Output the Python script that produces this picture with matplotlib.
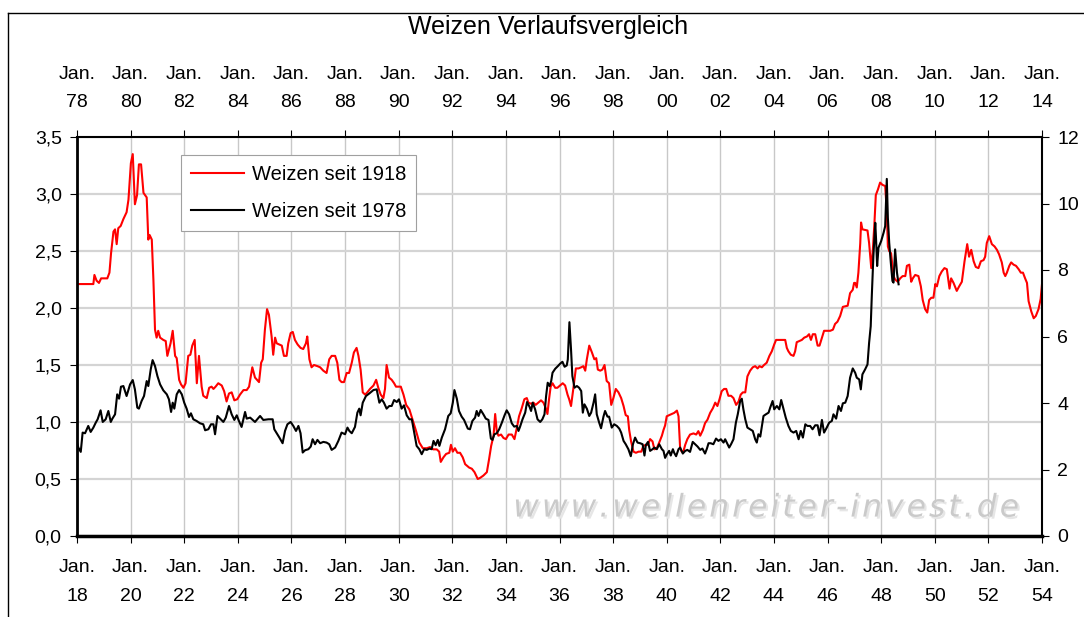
import numpy as np
import matplotlib
matplotlib.use('Agg')
import matplotlib.pyplot as plt
from matplotlib import patheffects
from matplotlib.lines import Line2D

plt.rcParams['font.family'] = ['Liberation Sans', 'DejaVu Sans']

# Weizen seit 1918 (linke Achse, untere Zeitachse)
red_years = [
    1918.00, 1918.61, 1918.65, 1918.73, 1918.82, 1918.90, 1919.13, 1919.21, 1919.27, 1919.36,
    1919.42, 1919.48, 1919.54, 1919.63, 1919.73, 1919.85, 1919.92, 1920.01, 1920.08, 1920.16,
    1920.24, 1920.31, 1920.39, 1920.48, 1920.60, 1920.66, 1920.71, 1920.79, 1920.85, 1920.91,
    1920.97, 1921.03, 1921.10, 1921.22, 1921.31, 1921.37, 1921.49, 1921.57, 1921.66, 1921.72,
    1921.81, 1921.88, 1921.97, 1922.05, 1922.15, 1922.23, 1922.30, 1922.39, 1922.47, 1922.55,
    1922.65, 1922.71, 1922.84, 1922.93, 1923.02, 1923.09, 1923.17, 1923.27, 1923.40, 1923.49,
    1923.58, 1923.67, 1923.77, 1923.87, 1923.98, 1924.08, 1924.21, 1924.33, 1924.42, 1924.54,
    1924.64, 1924.79, 1924.87, 1924.93, 1925.01, 1925.09, 1925.16, 1925.26, 1925.32, 1925.39,
    1925.45, 1925.55, 1925.64, 1925.72, 1925.82, 1925.88, 1925.97, 1926.05, 1926.13, 1926.23,
    1926.34, 1926.44, 1926.54, 1926.59, 1926.67, 1926.75, 1926.84, 1926.97, 1927.07, 1927.19,
    1927.31, 1927.41, 1927.50, 1927.63, 1927.71, 1927.79, 1927.87, 1927.96, 1928.06, 1928.15,
    1928.25, 1928.33, 1928.43, 1928.50, 1928.58, 1928.66, 1928.75, 1928.83, 1928.93, 1929.06,
    1929.16, 1929.24, 1929.33, 1929.43, 1929.49, 1929.55, 1929.64, 1929.74, 1929.83, 1929.90,
    1929.99, 1930.08, 1930.18, 1930.28, 1930.40, 1930.52, 1930.65, 1930.77, 1930.90, 1931.05,
    1931.17, 1931.29, 1931.42, 1931.51, 1931.57, 1931.67, 1931.77, 1931.89, 1931.95, 1932.02,
    1932.10, 1932.19, 1932.29, 1932.39, 1932.48, 1932.63, 1932.73, 1932.83, 1932.95, 1933.04,
    1933.16, 1933.29, 1933.37, 1933.45, 1933.54, 1933.60, 1933.66, 1933.72, 1933.82, 1933.91,
    1934.00, 1934.10, 1934.22, 1934.32, 1934.41, 1934.49, 1934.59, 1934.69, 1934.78, 1934.84,
    1934.94, 1935.03, 1935.11, 1935.21, 1935.31, 1935.40, 1935.49, 1935.55, 1935.61, 1935.67,
    1935.74, 1935.84, 1935.92, 1936.02, 1936.12, 1936.21, 1936.30, 1936.36, 1936.43, 1936.52,
    1936.61, 1936.71, 1936.81, 1936.89, 1936.96, 1937.02, 1937.11, 1937.21, 1937.30, 1937.37,
    1937.43, 1937.52, 1937.60, 1937.68, 1937.76, 1937.85, 1937.93, 1938.01, 1938.10, 1938.20,
    1938.30, 1938.39, 1938.47, 1938.55, 1938.60, 1938.67, 1938.76, 1938.85, 1938.95, 1939.05,
    1939.13, 1939.22, 1939.30, 1939.38, 1939.47, 1939.54, 1939.63, 1939.72, 1939.82, 1939.88,
    1939.94, 1940.00, 1940.09, 1940.19, 1940.28, 1940.38, 1940.44, 1940.50, 1940.56, 1940.62,
    1940.69, 1940.77, 1940.87, 1941.00, 1941.10, 1941.18, 1941.25, 1941.35, 1941.43, 1941.52,
    1941.62, 1941.72, 1941.81, 1941.89, 1941.97, 1942.05, 1942.14, 1942.22, 1942.30, 1942.40,
    1942.49, 1942.59, 1942.68, 1942.76, 1942.84, 1942.93, 1943.01, 1943.11, 1943.21, 1943.30,
    1943.39, 1943.46, 1943.55, 1943.63, 1943.73, 1943.83, 1943.92, 1944.01, 1944.08, 1944.42,
    1944.48, 1944.54, 1944.63, 1944.73, 1944.79, 1944.85, 1944.95, 1945.04, 1945.13, 1945.23,
    1945.31, 1945.38, 1945.45, 1945.54, 1945.63, 1945.70, 1945.79, 1945.87, 1946.10, 1946.20,
    1946.28, 1946.37, 1946.47, 1946.57, 1946.75, 1946.84, 1946.94, 1946.99, 1947.03, 1947.09,
    1947.15, 1947.22, 1947.25, 1947.30, 1947.49, 1947.55, 1947.63, 1947.69, 1947.75, 1947.80,
    1947.88, 1947.96, 1948.05, 1948.15, 1948.21, 1948.25, 1948.30, 1948.37, 1948.46, 1948.52,
    1948.62, 1948.71, 1948.80, 1948.90, 1948.96, 1949.05, 1949.12, 1949.18, 1949.27, 1949.39,
    1949.48, 1949.55, 1949.64, 1949.72, 1949.79, 1949.87, 1949.95, 1950.02, 1950.08, 1950.17,
    1950.26, 1950.36, 1950.45, 1950.55, 1950.61, 1950.70, 1950.82, 1950.91, 1951.01, 1951.11,
    1951.21, 1951.28, 1951.36, 1951.45, 1951.53, 1951.63, 1951.72, 1951.82, 1951.88, 1951.94,
    1952.03, 1952.13, 1952.23, 1952.32, 1952.40, 1952.50, 1952.57, 1952.63, 1952.69, 1952.78,
    1952.85, 1952.94, 1953.03, 1953.13, 1953.21, 1953.29, 1953.37, 1953.44, 1953.50, 1953.60,
    1953.69, 1953.77, 1953.87, 1953.95, 1954.00,
]
red_vals = [
    2.21, 2.21, 2.29, 2.24, 2.22, 2.26, 2.26, 2.31, 2.48, 2.67,
    2.69, 2.56, 2.70, 2.72, 2.78, 2.84, 2.95, 3.27, 3.35, 2.91,
    2.99, 3.26, 3.26, 3.01, 2.97, 2.60, 2.64, 2.60, 2.25, 1.81,
    1.74, 1.80, 1.74, 1.72, 1.71, 1.58, 1.69, 1.80, 1.58, 1.56,
    1.37, 1.33, 1.30, 1.34, 1.58, 1.59, 1.67, 1.72, 1.34, 1.58,
    1.31, 1.23, 1.21, 1.30, 1.31, 1.29, 1.31, 1.34, 1.32, 1.27,
    1.18, 1.25, 1.26, 1.19, 1.20, 1.24, 1.28, 1.28, 1.31, 1.48,
    1.39, 1.35, 1.52, 1.55, 1.81, 1.99, 1.94, 1.75, 1.59, 1.74,
    1.69, 1.68, 1.67, 1.58, 1.58, 1.69, 1.78, 1.79, 1.72, 1.68,
    1.65, 1.64, 1.69, 1.75, 1.55, 1.48, 1.50, 1.49, 1.48, 1.45,
    1.43, 1.55, 1.58, 1.58, 1.52, 1.37, 1.35, 1.35, 1.43, 1.43,
    1.52, 1.61, 1.65, 1.58, 1.46, 1.26, 1.24, 1.26, 1.29, 1.32,
    1.37, 1.30, 1.24, 1.21, 1.29, 1.50, 1.39, 1.37, 1.34, 1.31,
    1.31, 1.31, 1.24, 1.15, 1.11, 1.02, 0.92, 0.82, 0.77, 0.77,
    0.78, 0.76, 0.76, 0.74, 0.65, 0.69, 0.72, 0.73, 0.80, 0.74,
    0.77, 0.73, 0.73, 0.69, 0.63, 0.60, 0.59, 0.56, 0.50, 0.51,
    0.53, 0.56, 0.67, 0.79, 0.88, 1.07, 0.92, 0.88, 0.89, 0.86,
    0.85, 0.89, 0.89, 0.85, 0.95, 1.05, 1.12, 1.20, 1.21, 1.17,
    1.16, 1.17, 1.15, 1.17, 1.19, 1.17, 1.12, 1.07, 1.20, 1.31,
    1.34, 1.30, 1.30, 1.32, 1.34, 1.32, 1.24, 1.20, 1.14, 1.30,
    1.47, 1.47, 1.48, 1.49, 1.45, 1.55, 1.67, 1.61, 1.55, 1.56,
    1.46, 1.45, 1.46, 1.50, 1.36, 1.34, 1.15, 1.21, 1.29, 1.26,
    1.21, 1.14, 1.06, 1.05, 0.93, 0.83, 0.74, 0.73, 0.74, 0.74,
    0.79, 0.80, 0.80, 0.85, 0.83, 0.76, 0.77, 0.82, 0.88, 0.93,
    0.97, 1.05, 1.06, 1.07, 1.08, 1.10, 1.05, 0.77, 0.74, 0.74,
    0.80, 0.85, 0.89, 0.90, 0.89, 0.92, 0.88, 0.93, 0.99, 1.02,
    1.08, 1.12, 1.17, 1.14, 1.20, 1.27, 1.29, 1.29, 1.23, 1.23,
    1.21, 1.15, 1.18, 1.24, 1.26, 1.26, 1.40, 1.45, 1.48, 1.49,
    1.47, 1.49, 1.48, 1.50, 1.52, 1.58, 1.62, 1.68, 1.72, 1.72,
    1.65, 1.62, 1.59, 1.58, 1.62, 1.70, 1.71, 1.72, 1.74, 1.75,
    1.77, 1.72, 1.77, 1.77, 1.67, 1.67, 1.74, 1.80, 1.80, 1.81,
    1.86, 1.88, 1.93, 2.01, 2.02, 2.13, 2.16, 2.22, 2.22, 2.18,
    2.31, 2.57, 2.75, 2.69, 2.68, 2.57, 2.35, 2.51, 2.75, 2.99,
    3.04, 3.10, 3.08, 3.07, 2.85, 2.54, 2.50, 2.48, 2.28, 2.25,
    2.23, 2.26, 2.28, 2.28, 2.37, 2.38, 2.23, 2.26, 2.29, 2.28,
    2.19, 2.07, 1.99, 1.96, 2.07, 2.09, 2.09, 2.21, 2.19, 2.28,
    2.32, 2.35, 2.34, 2.17, 2.26, 2.22, 2.15, 2.19, 2.23, 2.41,
    2.56, 2.45, 2.51, 2.41, 2.36, 2.35, 2.41, 2.42, 2.45, 2.57,
    2.63, 2.56, 2.54, 2.51, 2.47, 2.40, 2.31, 2.28, 2.31, 2.37,
    2.40, 2.38, 2.37, 2.34, 2.31, 2.31, 2.26, 2.22, 2.06, 1.97,
    1.91, 1.93, 1.99, 2.08, 2.21,
]

# Weizen seit 1978 (rechte Achse, obere Zeitachse)
black_years = [
    1978.00, 1978.05, 1978.14, 1978.21, 1978.30, 1978.42, 1978.51, 1978.61, 1978.70, 1978.77,
    1978.88, 1978.96, 1979.07, 1979.17, 1979.26, 1979.32, 1979.42, 1979.50, 1979.57, 1979.64,
    1979.73, 1979.85, 1979.98, 1980.08, 1980.16, 1980.25, 1980.31, 1980.41, 1980.50, 1980.60,
    1980.66, 1980.75, 1980.82, 1980.91, 1981.00, 1981.10, 1981.22, 1981.35, 1981.43, 1981.51,
    1981.57, 1981.63, 1981.72, 1981.81, 1981.91, 1982.00, 1982.09, 1982.18, 1982.25, 1982.34,
    1982.46, 1982.59, 1982.71, 1982.78, 1982.90, 1983.00, 1983.09, 1983.15, 1983.24, 1983.34,
    1983.46, 1983.55, 1983.67, 1983.77, 1983.87, 1983.96, 1984.04, 1984.14, 1984.27, 1984.33,
    1984.46, 1984.64, 1984.83, 1984.95, 1985.14, 1985.30, 1985.36, 1985.45, 1985.55, 1985.67,
    1985.76, 1985.85, 1985.97, 1986.07, 1986.17, 1986.26, 1986.34, 1986.42, 1986.51, 1986.63,
    1986.72, 1986.79, 1986.88, 1986.97, 1987.07, 1987.19, 1987.31, 1987.41, 1987.50, 1987.63,
    1987.75, 1987.87, 1988.00, 1988.09, 1988.16, 1988.25, 1988.37, 1988.46, 1988.53, 1988.58,
    1988.66, 1988.78, 1988.91, 1989.06, 1989.18, 1989.28, 1989.37, 1989.45, 1989.55, 1989.65,
    1989.74, 1989.83, 1989.93, 1990.01, 1990.11, 1990.20, 1990.30, 1990.40, 1990.49, 1990.57,
    1990.67, 1990.77, 1990.86, 1990.95, 1991.05, 1991.15, 1991.23, 1991.30, 1991.38, 1991.46,
    1991.52, 1991.61, 1991.73, 1991.85, 1991.94, 1992.02, 1992.08, 1992.17, 1992.25, 1992.35,
    1992.44, 1992.58, 1992.66, 1992.75, 1992.85, 1992.91, 1992.98, 1993.06, 1993.16, 1993.25,
    1993.35, 1993.44, 1993.50, 1993.57, 1993.66, 1993.75, 1993.85, 1993.95, 1994.03, 1994.12,
    1994.22, 1994.31, 1994.41, 1994.47, 1994.53, 1994.62, 1994.72, 1994.79, 1994.88, 1994.94,
    1995.00, 1995.09, 1995.18, 1995.28, 1995.36, 1995.44, 1995.50, 1995.56, 1995.63, 1995.69,
    1995.74, 1995.84, 1995.94, 1996.02, 1996.11, 1996.19, 1996.27, 1996.31, 1996.37, 1996.43,
    1996.48, 1996.56, 1996.65, 1996.73, 1996.81, 1996.87, 1996.93, 1997.02, 1997.11, 1997.18,
    1997.27, 1997.33, 1997.39, 1997.48, 1997.55, 1997.64, 1997.70, 1997.79, 1997.85, 1997.95,
    1998.04, 1998.14, 1998.23, 1998.30, 1998.39, 1998.47, 1998.57, 1998.66, 1998.74, 1998.82,
    1998.91, 1999.01, 1999.10, 1999.17, 1999.22, 1999.30, 1999.38, 1999.47, 1999.54, 1999.63,
    1999.72, 1999.82, 1999.88, 1999.94, 2000.00, 2000.09, 2000.15, 2000.23, 2000.28, 2000.35,
    2000.44, 2000.50, 2000.60, 2000.69, 2000.77, 2000.87, 2000.97, 2001.06, 2001.15, 2001.25,
    2001.33, 2001.43, 2001.50, 2001.56, 2001.64, 2001.74, 2001.84, 2001.93, 2002.02, 2002.12,
    2002.18, 2002.24, 2002.33, 2002.40, 2002.49, 2002.58, 2002.65, 2002.74, 2002.80, 2002.86,
    2002.93, 2003.01, 2003.11, 2003.21, 2003.30, 2003.36, 2003.42, 2003.49, 2003.55, 2003.61,
    2003.70, 2003.80, 2003.86, 2003.95, 2004.01, 2004.11, 2004.20, 2004.27, 2004.36, 2004.44,
    2004.54, 2004.63, 2004.73, 2004.83, 2004.92, 2005.00, 2005.08, 2005.17, 2005.25, 2005.35,
    2005.44, 2005.54, 2005.63, 2005.70, 2005.79, 2005.87, 2005.97, 2006.06, 2006.16, 2006.22,
    2006.32, 2006.41, 2006.50, 2006.57, 2006.66, 2006.75, 2006.84, 2006.94, 2007.03, 2007.09,
    2007.18, 2007.24, 2007.30, 2007.40, 2007.49, 2007.55, 2007.61, 2007.65, 2007.71, 2007.78,
    2007.81, 2007.85, 2007.90, 2008.00, 2008.09, 2008.15, 2008.21, 2008.25, 2008.30, 2008.36,
    2008.42, 2008.46, 2008.52, 2008.59, 2008.65,
]
black_vals = [
    2.81, 2.66, 2.53, 3.11, 3.09, 3.31, 3.13, 3.26, 3.41, 3.51,
    3.78, 3.43, 3.51, 3.76, 3.43, 3.53, 3.66, 4.26, 4.13, 4.49,
    4.51, 4.21, 4.56, 4.69, 4.41, 3.86, 3.83, 4.06, 4.21, 4.66,
    4.51, 5.01, 5.29, 5.11, 4.81, 4.56, 4.38, 4.26, 4.11, 3.73,
    4.01, 3.83, 4.26, 4.39, 4.26, 4.01, 3.83, 3.58, 3.69, 3.51,
    3.46, 3.39, 3.36, 3.18, 3.21, 3.36, 3.36, 3.06, 3.61, 3.53,
    3.43, 3.56, 3.91, 3.66, 3.49, 3.63, 3.46, 3.28, 3.73, 3.53,
    3.56, 3.43, 3.61, 3.49, 3.51, 3.51, 3.21, 3.09, 2.96, 2.79,
    3.16, 3.36, 3.43, 3.31, 3.16, 3.31, 3.09, 2.51, 2.58, 2.61,
    2.69, 2.91, 2.76, 2.89, 2.79, 2.83, 2.81, 2.76, 2.59, 2.66,
    2.86, 3.11, 3.06, 3.26, 3.16, 3.09, 3.28, 3.71, 3.83, 3.63,
    4.01, 4.21, 4.29, 4.39, 4.41, 4.01, 4.11, 4.01, 3.83, 3.91,
    3.91, 4.09, 4.03, 4.11, 3.83, 3.93, 3.63, 3.51, 3.51, 3.16,
    2.71, 2.61, 2.46, 2.61, 2.59, 2.63, 2.61, 2.86, 2.73, 2.89,
    2.71, 2.96, 3.21, 3.61, 3.69, 4.01, 4.39, 4.13, 3.76, 3.59,
    3.49, 3.23, 3.21, 3.46, 3.56, 3.76, 3.61, 3.79, 3.66, 3.53,
    3.49, 2.93, 2.89, 3.06, 3.09, 3.21, 3.41, 3.63, 3.78, 3.66,
    3.39, 3.29, 3.31, 3.16, 3.29, 3.51, 3.71, 4.03, 3.89, 3.76,
    4.01, 3.81, 3.51, 3.43, 3.51, 3.66, 4.21, 4.61, 4.51, 4.66,
    4.91, 5.03, 5.11, 5.18, 5.24, 5.09, 5.13, 5.31, 6.43, 5.61,
    4.81, 4.46, 4.51, 4.46, 4.36, 3.71, 3.96, 3.83, 3.61, 3.71,
    4.01, 4.26, 3.66, 3.41, 3.24, 3.59, 3.76, 3.59, 3.59, 3.26,
    3.36, 3.31, 3.23, 3.11, 2.86, 2.76, 2.61, 2.40, 2.76, 2.96,
    2.81, 2.79, 2.76, 2.42, 2.73, 2.83, 2.56, 2.61, 2.66, 2.61,
    2.76, 2.61, 2.56, 2.35, 2.45, 2.56, 2.42, 2.61, 2.50, 2.40,
    2.61, 2.66, 2.48, 2.56, 2.59, 2.53, 2.83, 2.76, 2.69, 2.59,
    2.63, 2.48, 2.63, 2.79, 2.79, 2.76, 2.93, 2.86, 2.91, 2.81,
    2.91, 2.81, 2.66, 2.76, 2.91, 3.41, 3.66, 4.06, 4.13, 3.81,
    3.51, 3.26, 3.21, 3.16, 2.91, 2.81, 3.06, 2.99, 3.31, 3.61,
    3.66, 3.71, 3.86, 4.06, 3.81, 3.91, 3.81, 4.09, 3.81, 3.56,
    3.31, 3.16, 3.11, 3.16, 2.91, 3.16, 2.96, 3.36, 3.31, 3.31,
    3.21, 3.33, 3.33, 3.03, 3.49, 3.11, 3.26, 3.41, 3.46, 3.66,
    3.53, 3.91, 3.76, 3.99, 4.01, 4.21, 4.76, 5.04, 4.91, 4.76,
    4.71, 4.41, 4.86, 5.01, 5.16, 5.81, 6.31, 7.21, 8.42, 9.42,
    8.92, 8.12, 8.67, 8.87, 9.12, 9.32, 10.74, 9.57, 8.82, 8.22,
    7.67, 7.62, 8.62, 7.92, 7.57,
]

bottom_years = list(range(1918, 1955, 2))
top_years = list(range(1978, 2015, 2))
left_ticks = [0.0, 0.5, 1.0, 1.5, 2.0, 2.5, 3.0, 3.5]
right_ticks = [0, 2, 4, 6, 8, 10, 12]

fig = plt.figure(figsize=(10.84, 6.17), dpi=100)
rect = [77 / 1084, 1 - 536 / 617, 965 / 1084, 399 / 617]
ax = fig.add_axes(rect)
ax2 = fig.add_axes(rect, frameon=False)

l1, = ax.plot(red_years, red_vals, color='#ff0000', lw=1.5, label='Weizen seit 1918')
ax.set_xlim(1918, 1954)
ax.set_ylim(0, 3.5)
ax.set_xticks(bottom_years)
ax.set_xticklabels(['Jan.\n%02d' % (y % 100) for y in bottom_years])
ax.set_yticks(left_ticks)
ax.set_yticklabels([('%.1f' % v).replace('.', ',') for v in left_ticks])
ax.yaxis.grid(True, color='#d4d4d4', lw=1.6)
ax.xaxis.grid(True, color='#c8c8c8', lw=1.0)
ax.set_axisbelow(True)
ax.tick_params(axis='x', labelsize=14, length=5, pad=11.5)
ax.tick_params(axis='y', labelsize=14, length=5, pad=6)
for t in ax.get_xticklabels():
    t.set_linespacing(1.9)
ax.spines['left'].set_linewidth(2)
ax.spines['bottom'].set_linewidth(2.5)
ax.spines['top'].set_linewidth(1.5)
ax.spines['right'].set_linewidth(1.5)

l2, = ax2.plot(black_years, black_vals, color='black', lw=1.5, label='Weizen seit 1978')
ax2.set_xlim(1978, 2014)
ax2.set_ylim(0, 12)
ax2.xaxis.tick_top()
ax2.yaxis.tick_right()
ax2.set_xticks(top_years)
ax2.set_xticklabels(['Jan.\n%02d' % (y % 100) for y in top_years])
ax2.set_yticks(right_ticks)
ax2.tick_params(axis='x', labelsize=14, length=5, pad=13.5)
ax2.tick_params(axis='y', labelsize=14, length=5, pad=6)
for t in ax2.get_xticklabels():
    t.set_linespacing(1.9)

leg = ax2.legend(handles=[l1, l2], loc='upper left', bbox_to_anchor=(0.108, 0.955),
                 fancybox=False, framealpha=1, edgecolor='#a0a0a0', fontsize=14.5,
                 handlelength=2.6, handletextpad=0.4, borderaxespad=0, borderpad=0.5,
                 labelspacing=0.9)
leg.get_frame().set_linewidth(0.8)

wm = '\u200a'.join('www.wellenreiter-invest.de')
ax2.text(0.714, 0.07, wm, transform=ax2.transAxes, ha='center', va='center',
         fontsize=22.5, family='DejaVu Sans', style='italic', color='#cacaca',
         path_effects=[patheffects.withSimplePatchShadow(offset=(1.5, -1.5),
                                                          shadow_rgbFace='#e6e6e6', alpha=1)])

fig.text(548 / 1084, 1 - 27 / 617, 'Weizen Verlaufsvergleich', ha='center', va='center',
         fontsize=18)

# Rahmen des Diagrammbereichs
fig.add_artist(Line2D([8 / 1084, 8 / 1084], [0, 1 - 13 / 617], transform=fig.transFigure,
                      color='black', lw=1))
fig.add_artist(Line2D([8 / 1084, 1], [1 - 13 / 617, 1 - 13 / 617], transform=fig.transFigure,
                      color='black', lw=1))

fig.savefig('out.png', dpi=100)
